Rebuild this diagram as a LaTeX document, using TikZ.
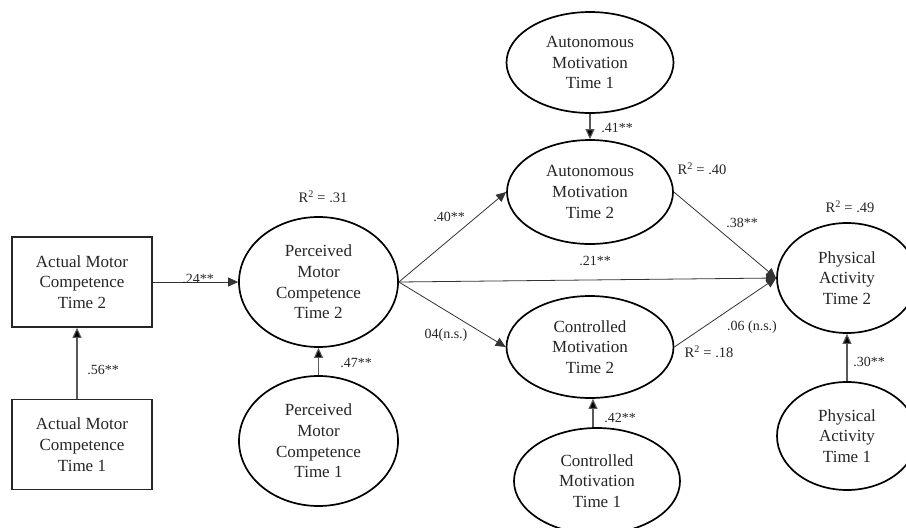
\documentclass[tikz,border=0pt]{standalone}
\usepackage{fontspec}
\setmainfont{Liberation Serif}
\usetikzlibrary{shapes.geometric,arrows.meta}
\begin{document}
\begin{tikzpicture}[x=1pt,y=-1pt,
  every node/.style={text=black!85},
  lbl/.style={font=\fontsize{17}{20.7}\selectfont, align=center},
  ell/.style={lbl, draw=black, line width=1.7pt, ellipse, inner sep=0pt},
  boxnode/.style={lbl, draw=black!85, line width=1.7pt, rectangle, minimum width=140pt, minimum height=90pt, inner sep=0pt},
  coef/.style={font=\fontsize{14}{16}\selectfont, inner sep=0pt},
  rsq/.style={font=\fontsize{14.5}{17}\selectfont, inner sep=0pt},
  arr/.style={line width=0.8pt, draw=black!80, -{Triangle[length=10pt,width=9pt]}},
  varr/.style={line width=1.1pt, draw=black!65, -{Triangle[length=10pt,width=9pt,fill=black]}}
]
\useasboundingbox (0,0) rectangle (906,528);
\fill[white] (0,0) rectangle (906,528);

% boxes
\node[boxnode] (amc2) at (82,282) {Actual Motor\\Competence\\Time 2};
\node[boxnode] (amc1) at (82,444.5) {Actual Motor\\Competence\\Time 1};

% ellipses
\node[ell, minimum width=159pt, minimum height=130pt] (pmc2) at (318.5,282) {Perceived\\Motor\\Competence\\Time 2};
\node[ell, minimum width=159pt, minimum height=130pt] (pmc1) at (318.5,441) {Perceived\\Motor\\Competence\\Time 1};
\node[ell, minimum width=167pt, minimum height=101pt] (am1) at (590,62.5) {Autonomous\\Motivation\\Time 1};
\node[ell, minimum width=166pt, minimum height=104pt] (am2) at (590,192) {Autonomous\\Motivation\\Time 2};
\node[ell, minimum width=167pt, minimum height=102pt] (cm2) at (590,347) {Controlled\\Motivation\\Time 2};
\node[ell, minimum width=166pt, minimum height=106pt] (cm1) at (597,481) {Controlled\\Motivation\\Time 1};
\node[ell, minimum width=140pt, minimum height=110pt] (pa2) at (847,278) {Physical\\Activity\\Time 2};
\node[ell, minimum width=140pt, minimum height=108pt] (pa1) at (847,436) {Physical\\Activity\\Time 1};

% connectors
\draw[varr] ([xshift=-5pt]amc1.north) -- ([xshift=-5pt]amc2.south);
\draw[arr] (amc2.east) -- (pmc2.west |- amc2.east);
\draw[varr] (pmc1.north) -- (pmc2.south);
\draw[varr] (am1.south) -- (am2.north);
\draw[varr] (cm1.north) ++(-4,0) coordinate (cmA) -- (cmA |- cm2.south);
\draw[varr] (pa1.north) -- (pa2.south);
\draw[arr] (pmc2.east) -- (am2.west);
\draw[arr] (pmc2.east) -- (cm2.west);
\draw[arr] (pmc2.east) -- (pa2.west);
\draw[arr] (am2.east) -- (pa2.west);
\draw[arr] (cm2.east) -- (pa2.west);

% coefficients
\node[coef] (c56) at (103,370) {.56**};
\node[coef] (c24) at (198,279) {.24**};
\node[coef] (c47) at (356,363) {.47**};
\node[coef] (c41) at (617,128) {.41**};
\node[coef] (c42) at (620,418) {.42**};
\node[coef] (c30) at (869,362) {.30**};
\node[coef] (c40) at (449,217) {.40**};
\node[coef] (c21) at (595,261) {.21**};
\node[coef] (c04) at (446,335) {04(n.s.)};
\node[coef] (c38) at (742,223) {.38**};
\node[coef] (c06) at (752,327) {.06 (n.s.)};

% R squared
\node[rsq] (r31) at (323,197) {R\textsuperscript{2} = .31};
\node[rsq] (r40) at (702,169) {R\textsuperscript{2} = .40};
\node[rsq] (r49) at (850,207) {R\textsuperscript{2} = .49};
\node[rsq] (r18) at (709,352) {R\textsuperscript{2} = .18};
\end{tikzpicture}
\end{document}
